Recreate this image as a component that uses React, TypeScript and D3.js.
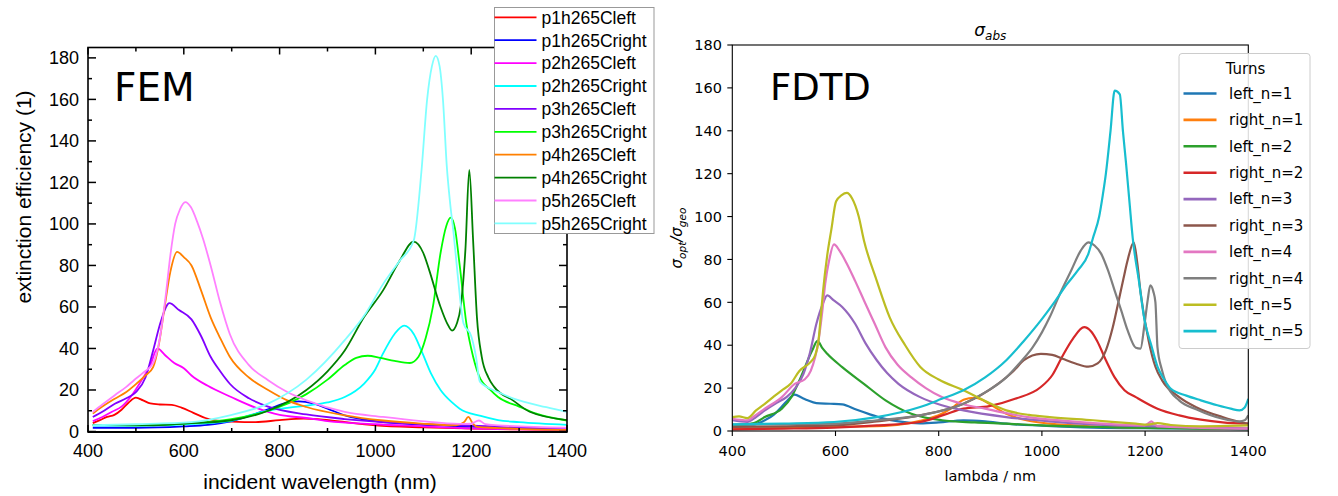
import React from 'react';
import * as d3 from 'd3';

type Pt = [number, number];

// ---------- FEM (left) data ----------
const femXTicks = [400, 600, 800, 1000, 1200, 1400];
const femXMinor = [500, 700, 900, 1100, 1300];
const femYTicks = [0, 20, 40, 60, 80, 100, 120, 140, 160, 180];
const femYMinor = [10, 30, 50, 70, 90, 110, 130, 150, 170];

const p1Left: Pt[] = [[410,4],[425,5.5],[440,7],[455,8],[470,10.5],[485,14],[500,16.3],[515,15],[530,13.5],[550,13],[575,12.8],[595,11.5],[620,9],[645,6.5],[670,5.2],[700,4.8],[750,4.5],[800,5.5],[850,6.2],[880,6],[920,5],[1000,3],[1100,2],[1200,1.4],[1300,1],[1400,0.8]];
const p1Right: Pt[] = [[410,1.8],[500,1.8],[600,2.5],[650,3.2],[700,5],[750,8.5],[780,11],[810,13.5],[840,14.5],[870,13.5],[900,11],[940,7.5],[1000,5],[1100,3.2],[1200,2.4],[1300,1.5],[1400,0.8]];
const p2Left: Pt[] = [[410,5],[430,7],[450,9.5],[470,12],[490,17],[510,24],[530,32],[545,40],[560,37],[580,33],[600,30.5],[616,27],[650,22],[700,16.5],[750,11.5],[800,8],[856,6.5],[900,5],[1000,3.5],[1100,2.5],[1200,1.5],[1400,0.8]];
const p2Right: Pt[] = [[410,2.9],[500,2.8],[600,3.5],[696,5],[740,8],[776,10],[820,11.5],[856,12.5],[900,14],[936,16.6],[976,23],[1000,30],[1016,37.6],[1040,47],[1060,51],[1080,47],[1096,39],[1116,28],[1136,20],[1160,14],[1176,11],[1220,7.5],[1256,5.5],[1300,4.5],[1400,3.2]];
const p3Left: Pt[] = [[410,7],[430,9.5],[456,13.4],[480,16],[500,19],[520,26],[536,39],[552,53],[570,61.8],[590,58.5],[616,54],[636,46],[656,36],[676,29],[696,23],[736,16],[776,12],[856,8.2],[936,6],[1016,4.5],[1100,3.5],[1176,3],[1300,2],[1400,1.3]];
const p3Right: Pt[] = [[410,3.2],[500,3],[600,3.8],[696,5.8],[776,10],[856,18],[900,25],[936,32],[960,35.5],[984,36.5],[1010,35.5],[1040,34],[1072,33],[1090,36],[1105,45],[1120,60],[1136,86],[1148,99],[1157,103],[1166,98],[1176,80],[1190,52],[1200,40],[1216,27],[1240,20],[1256,16.6],[1300,12],[1336,8.6],[1400,5.3]];
const p4Left: Pt[] = [[410,8.6],[430,12],[456,15.8],[480,19],[496,22],[520,27],[536,31],[548,42],[560,60],[572,77],[586,86.5],[600,84],[616,80],[636,68],[656,55],[676,45],[696,36],[736,26],[776,20],[816,15],[856,11.8],[936,7.8],[1016,5.3],[1096,3.8],[1168,3],[1185,4.5],[1194,7],[1203,4],[1212,2.2],[1300,1.3],[1400,0.8]];
const p4Right: Pt[] = [[410,3.2],[536,3],[616,4],[696,5.3],[776,10],[856,20],[900,29],[936,39],[976,55],[1016,68],[1050,82],[1080,91.5],[1100,86],[1112,78],[1136,60],[1150,52],[1160,48.6],[1170,52],[1178,60],[1188,88],[1196,126],[1204,92],[1212,55],[1222,36],[1236,26],[1248,21.5],[1287,15],[1322,9.5],[1400,5.5]];
const p5Left: Pt[] = [[410,9.4],[430,13],[456,17.5],[480,21.5],[496,24.7],[516,28.5],[536,33],[550,45],[562,65],[572,85],[582,100],[592,107],[603,110.5],[615,108],[628,101],[640,93],[656,80],[676,62],[696,47],[736,32],[776,24.7],[816,19],[856,15],[936,9.4],[1016,7],[1096,5],[1176,3.7],[1200,3.8],[1216,5.3],[1230,3.5],[1256,3],[1400,1.8]];
const p5Right: Pt[] = [[410,3],[500,3.5],[616,4.5],[696,7.8],[776,13.4],[856,25],[936,44],[980,57],[1016,71],[1050,82],[1080,92],[1096,125],[1108,160],[1118,176],[1126,181],[1134,176],[1141,160],[1149,128],[1156,110],[1163,96],[1172,75],[1184,52],[1200,46],[1210,36],[1218,24],[1256,19],[1287,16],[1357,11.7],[1400,9.4]];

const femNames = ['p1h265Cleft','p1h265Cright','p2h265Cleft','p2h265Cright','p3h265Cleft','p3h265Cright','p4h265Cleft','p4h265Cright','p5h265Cleft','p5h265Cright'];
const femColors = ['#ff0000','#0000ff','#ff00ff','#00ffff','#8000ff','#00ff00','#ff8000','#008000','#ff80ff','#80ffff'];
const femSeries = [p1Left, p1Right, p2Left, p2Right, p3Left, p3Right, p4Left, p4Right, p5Left, p5Right];

// ---------- FDTD (right) data ----------
const fdtdXTicks = [400, 600, 800, 1000, 1200, 1400];
const fdtdYTicks = [0, 20, 40, 60, 80, 100, 120, 140, 160, 180];

const leftN1: Pt[] = [[400,2.6],[420,3],[440,3],[463,5],[480,7.5],[492,10.4],[506,14],[521,17],[535,15.5],[546,14.3],[563,13],[590,12.7],[613,12.4],[640,10],[664,8],[690,6],[722,4.5],[764,3.6],[800,4],[848,5],[890,4.5],[931,3.4],[1000,2.5],[1099,1.6],[1250,1.2],[1400,0.9]];
const rightN1: Pt[] = [[400,1.1],[500,1.4],[600,2],[680,2.3],[730,3.2],[764,4.7],[806,8],[830,11.5],[848,14.6],[869,15.5],[885,14.5],[898,12.7],[931,8],[970,5],[1015,3.4],[1099,2.2],[1250,1.5],[1400,1.1]];
const leftN2: Pt[] = [[400,2.6],[442,3.7],[463,6.5],[496,10.4],[515,16],[530,23.6],[555,37.6],[565,42],[575,38.5],[584,36],[613,29.8],[655,22],[697,14.3],[747,8],[806,5],[870,4],[931,3.4],[1000,2.6],[1099,1.9],[1250,1.3],[1400,0.9]];
const rightN2: Pt[] = [[400,0.8],[500,1.1],[597,1.6],[680,2.6],[764,4.2],[810,7.5],[848,10.4],[898,11.6],[948,15],[998,20.5],[1020,26],[1040,35],[1060,43],[1082,48.4],[1095,46.5],[1107,42],[1124,33],[1141,25],[1160,19],[1182,15.8],[1224,10.4],[1266,7.3],[1308,5.3],[1350,4],[1400,3.4]];
const leftN3: Pt[] = [[400,5],[429,4.2],[446,6.5],[463,9.6],[485,13],[505,15.8],[522,20],[538,26.7],[550,36],[563,50],[575,59],[584,63.2],[596,61],[613,57.8],[638,50],[658,41],[680,33],[700,27],[722,22],[764,15.8],[806,12],[848,9.6],[931,6.5],[1015,4.5],[1099,3.1],[1250,2],[1400,1.1]];
const rightN3: Pt[] = [[400,1.9],[500,2.2],[597,2.6],[680,4.5],[764,7.3],[848,12.7],[915,22],[945,28],[965,33],[998,36],[1020,35.5],[1040,33.7],[1065,31.5],[1090,30],[1108,31.5],[1124,37.6],[1137,48],[1149,61],[1158,71],[1166,79.5],[1178,88],[1185,78],[1191,65],[1207,42],[1220,30],[1233,23.6],[1266,15.8],[1300,11],[1350,6.5],[1383,4.2],[1400,3.4]];
const leftN4: Pt[] = [[400,5.7],[429,5],[446,7.5],[463,10.4],[496,15.8],[521,22],[540,24],[552,28],[567,42],[574,55],[580,68.6],[588,80],[597,87],[608,84],[622,78],[638,70],[655,61],[676,50],[697,39],[720,31],[747,25],[775,20],[806,15.8],[848,12.5],[890,10.4],[931,8.3],[973,6.5],[1040,4.8],[1099,3.7],[1150,3],[1199,2.6],[1206,3.5],[1212,4.5],[1218,3.3],[1224,2.3],[1300,1.6],[1400,1.1]];
const rightN4: Pt[] = [[400,3],[500,3.2],[597,3.4],[680,5],[764,7.3],[848,12.7],[890,18],[931,25],[958,32],[982,39],[1000,46],[1015,53],[1035,64],[1057,75],[1075,84],[1090,88],[1102,86.5],[1115,82.6],[1128,75],[1141,65.5],[1154,56],[1166,47],[1182,38.8],[1191,38.4],[1199,50],[1205,61],[1210,67.9],[1216,65],[1220,60],[1224,39],[1232,29],[1241,22],[1266,14.3],[1300,10],[1350,5.7],[1383,4.5],[1393,5],[1400,7.3]];
const leftN5: Pt[] = [[400,6.5],[413,6.8],[429,6],[446,9.6],[463,12.7],[479,15.8],[496,19],[513,22],[530,28],[551,32],[560,35],[567,42],[572,55],[576,65.5],[584,82],[592,94],[601,107],[612,110],[622,111],[632,108.5],[645,100],[655,89],[680,70],[705,53],[735,40],[764,30],[800,24],[848,19],[890,14],[931,9.6],[975,7.5],[1015,6.5],[1099,5],[1182,3.4],[1205,3],[1224,3.7],[1250,2.8],[1308,2.2],[1400,2.6]];
const rightN5: Pt[] = [[400,3.1],[500,3.5],[597,4.2],[680,6.5],[764,11.2],[806,15],[848,19],[890,25],[931,33],[965,42],[998,51.6],[1024,60],[1049,68.6],[1070,75],[1090,82.6],[1099,90],[1111,100],[1118,110],[1124,120],[1133,140],[1141,158.7],[1151,157],[1157,140],[1163,125],[1170,106],[1176,90],[1188,70],[1199,51.6],[1212,40],[1224,30],[1237,24],[1250,19.7],[1280,16.5],[1308,14.3],[1340,12],[1366,10.4],[1383,9.6],[1393,11],[1400,15]];

const fdtdNames = ['left_n=1','right_n=1','left_n=2','right_n=2','left_n=3','right_n=3','left_n=4','right_n=4','left_n=5','right_n=5'];
const fdtdColors = ['#1f77b4','#ff7f0e','#2ca02c','#d62728','#9467bd','#8c564b','#e377c2','#7f7f7f','#bcbd22','#17becf'];
const fdtdSeries = [leftN1, rightN1, leftN2, rightN2, leftN3, rightN3, leftN4, rightN4, leftN5, rightN5];

const ARIAL = '"Liberation Sans", Arial, sans-serif';
const DEJAVU = '"DejaVu Sans", sans-serif';

function FemPanel() {
  const L = 88, R = 567, T = 47.5, B = 432;
  const x = d3.scaleLinear().domain([400, 1400]).range([L, R]);
  const y = d3.scaleLinear().domain([0, 185]).range([431.5, 47.5]);
  const line = d3.line<Pt>().x(d => x(d[0])).y(d => y(d[1])).curve(d3.curveMonotoneX);
  const lgX = 494.5, lgY = 7.5, lgW = 159.5, lgH = 226, lgStep = 22.9;
  return (
    <g>
      <defs>
        <clipPath id="femclip"><rect x={L} y={T} width={R - L} height={B - T} /></clipPath>
      </defs>
      <g clipPath="url(#femclip)">
        {femSeries.map((s, i) => (
          <path key={i} d={line(s) || ''} fill="none" stroke={femColors[i]} strokeWidth={1.8} />
        ))}
      </g>
      <rect x={L} y={T} width={R - L} height={B - T} fill="none" stroke="#000" strokeWidth={1.6} />
      <line x1={L} x2={R} y1={B} y2={B} stroke="#000" strokeWidth={2.2} />
      {femXTicks.map(t => (
        <g key={'xt' + t}>
          <line x1={x(t)} x2={x(t)} y1={B} y2={B - 7} stroke="#000" strokeWidth={1.5} />
          <line x1={x(t)} x2={x(t)} y1={T} y2={T + 7} stroke="#000" strokeWidth={1.5} />
          <text x={x(t)} y={457} textAnchor="middle" fontFamily={ARIAL} fontSize={18}>{t}</text>
        </g>
      ))}
      {femXMinor.map(t => (
        <g key={'xm' + t}>
          <line x1={x(t)} x2={x(t)} y1={B} y2={B - 4} stroke="#000" strokeWidth={1.5} />
          <line x1={x(t)} x2={x(t)} y1={T} y2={T + 4} stroke="#000" strokeWidth={1.5} />
        </g>
      ))}
      {femYTicks.map(t => (
        <g key={'yt' + t}>
          <line x1={L} x2={L + 8} y1={y(t)} y2={y(t)} stroke="#000" strokeWidth={1.5} />
          <line x1={R} x2={R - 8} y1={y(t)} y2={y(t)} stroke="#000" strokeWidth={1.5} />
          <text x={79} y={y(t) + 6.5} textAnchor="end" fontFamily={ARIAL} fontSize={18}>{t}</text>
        </g>
      ))}
      {femYMinor.map(t => (
        <g key={'ym' + t}>
          <line x1={L} x2={L + 4} y1={y(t)} y2={y(t)} stroke="#000" strokeWidth={1.5} />
          <line x1={R} x2={R - 4} y1={y(t)} y2={y(t)} stroke="#000" strokeWidth={1.5} />
        </g>
      ))}
      <text x={320} y={489} textAnchor="middle" fontFamily={ARIAL} fontSize={21}>incident wavelength (nm)</text>
      <text transform="translate(31,197) rotate(-90)" textAnchor="middle" fontFamily={ARIAL} fontSize={21}>extinction efficiency (1)</text>
      <text x={114} y={101} fontFamily={DEJAVU} fontSize={39}>FEM</text>
      <rect x={lgX} y={lgY} width={lgW} height={lgH} fill="#fff" stroke="#999" strokeWidth={1} />
      {femNames.map((n, i) => (
        <g key={n}>
          <line x1={lgX} x2={lgX + 42} y1={17.3 + i * lgStep} y2={17.3 + i * lgStep} stroke={femColors[i]} strokeWidth={1.8} />
          <text x={lgX + 47} y={17.3 + i * lgStep + 6.3} fontFamily={ARIAL} fontSize={17.5}>{n}</text>
        </g>
      ))}
    </g>
  );
}

function FdtdPanel() {
  const L = 732.3, R = 1248.3, T = 45, B = 431;
  const x = d3.scaleLinear().domain([400, 1400]).range([L, R]);
  const y = d3.scaleLinear().domain([0, 180]).range([B, T]);
  const line = d3.line<Pt>().x(d => x(d[0])).y(d => y(d[1])).curve(d3.curveMonotoneX);
  const lgX = 1179, lgY = 53.5, lgW = 131, lgH = 295, lgStep = 26.4;
  return (
    <g>
      <defs>
        <clipPath id="fdtdclip"><rect x={L} y={T} width={R - L} height={B - T} /></clipPath>
      </defs>
      <g clipPath="url(#fdtdclip)">
        {fdtdSeries.map((s, i) => (
          <path key={i} d={line(s) || ''} fill="none" stroke={fdtdColors[i]} strokeWidth={2.2} strokeLinejoin="round" />
        ))}
      </g>
      <rect x={L} y={T} width={R - L} height={B - T} fill="none" stroke="#000" strokeWidth={1.1} />
      {fdtdXTicks.map(t => (
        <g key={'fx' + t}>
          <line x1={x(t)} x2={x(t)} y1={B} y2={B + 5} stroke="#000" strokeWidth={1.1} />
          <text x={x(t)} y={456} textAnchor="middle" fontFamily={DEJAVU} fontSize={14.5}>{t}</text>
        </g>
      ))}
      {fdtdYTicks.map(t => (
        <g key={'fy' + t}>
          <line x1={L - 5} x2={L} y1={y(t)} y2={y(t)} stroke="#000" strokeWidth={1.1} />
          <text x={722} y={y(t) + 5.2} textAnchor="end" fontFamily={DEJAVU} fontSize={14.5}>{t}</text>
        </g>
      ))}
      <text x={(L + R) / 2} y={481} textAnchor="middle" fontFamily={DEJAVU} fontSize={14.5}>lambda / nm</text>
      <text x={(L + R) / 2} y={36} textAnchor="middle" fontFamily={DEJAVU} fontSize={17} fontStyle="italic">
        σ<tspan fontSize={12} dy={4}>abs</tspan>
      </text>
      <text transform={`translate(682,${(T + B) / 2}) rotate(-90)`} textAnchor="middle" fontFamily={DEJAVU} fontSize={15} fontStyle="italic">
        σ<tspan fontSize={10.5} dy={3.5}>opt</tspan><tspan dy={-3.5}>/σ</tspan><tspan fontSize={10.5} dy={3.5}>geo</tspan>
      </text>
      <text x={770} y={100} fontFamily={DEJAVU} fontSize={37}>FDTD</text>
      <rect x={lgX} y={lgY} width={lgW} height={lgH} rx={3} fill="#fff" fillOpacity={0.85} stroke="#cccccc" strokeWidth={1} />
      <text x={lgX + lgW / 2 + 1} y={74} textAnchor="middle" fontFamily={DEJAVU} fontSize={15}>Turns</text>
      {fdtdNames.map((n, i) => (
        <g key={n}>
          <line x1={1183.5} x2={1216.5} y1={93.5 + i * lgStep} y2={93.5 + i * lgStep} stroke={fdtdColors[i]} strokeWidth={2.6} />
          <text x={1229} y={93.5 + i * lgStep + 5.3} fontFamily={DEJAVU} fontSize={15}>{n}</text>
        </g>
      ))}
    </g>
  );
}

export default function App() {
  return (
    <svg width={1338} height={496} style={{ position: 'absolute', left: 0, top: 0, background: '#fff' }}>
      <rect x={0} y={0} width={1338} height={496} fill="#fff" />
      <FemPanel />
      <FdtdPanel />
    </svg>
  );
}
